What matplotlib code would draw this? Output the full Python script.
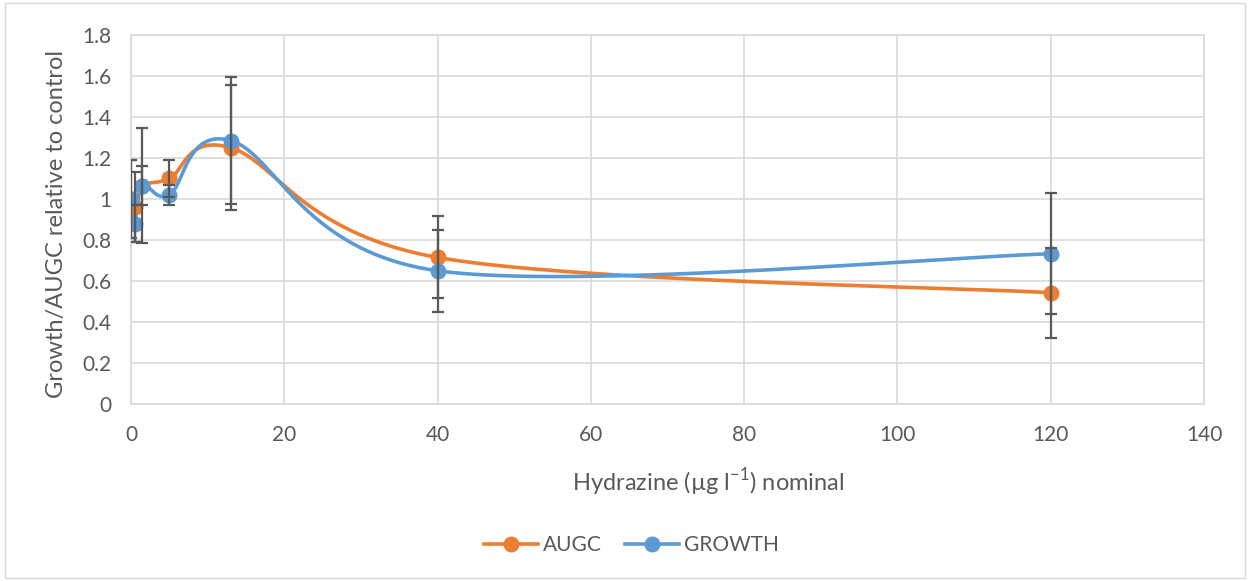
import numpy as np
import matplotlib.pyplot as plt
from matplotlib.patches import Rectangle

plt.rcParams['font.family'] = ['Lato', 'DejaVu Sans']

conc = [0, 0.5, 1.5, 5, 13, 40, 120]
augc = [1.0, 0.96, 1.065, 1.10, 1.25, 0.715, 0.543]
augc_err = [0.19, 0.17, 0.095, 0.09, 0.305, 0.2, 0.22]
growth = [1.0, 0.88, 1.065, 1.02, 1.285, 0.65, 0.733]
growth_err = [0.19, 0.09, 0.28, 0.05, 0.31, 0.2, 0.295]

orange = '#ED7D31'
blue = '#5B9BD5'
grey_txt = '#595959'
grid_c = '#D9D9D9'


def smooth(x, y, sx, sy, n=40):
    # Excel-style smoothed line (Catmull-Rom bezier), done in pixel space
    p = np.column_stack([np.array(x) * sx, np.array(y) * sy])
    pts = np.vstack([p[0], p, p[-1]])
    out = []
    for i in range(1, len(pts) - 2):
        p0, p1, p2, p3 = pts[i - 1], pts[i], pts[i + 1], pts[i + 2]
        c1 = p1 + (p2 - p0) / 6
        c2 = p2 - (p3 - p1) / 6
        t = np.linspace(0, 1, n)[:, None]
        seg = ((1 - t) ** 3) * p1 + 3 * ((1 - t) ** 2) * t * c1 + 3 * (1 - t) * t ** 2 * c2 + t ** 3 * p2
        out.append(seg)
    out = np.vstack(out)
    return out[:, 0] / sx, out[:, 1] / sy


fig = plt.figure(figsize=(12.5, 5.81), dpi=100)
fig.patches.append(Rectangle((0.004, 0.005), 0.992, 0.99, transform=fig.transFigure,
                             fill=False, edgecolor=grid_c, linewidth=1))
ax = fig.add_axes([0.1048, 0.3046, 0.8584, 0.6352])

ax.set_xlim(0, 140)
ax.set_ylim(0, 1.8)
sx = 1073 / 140
sy = 369 / 1.8

for ys, err, col, lab in [(augc, augc_err, orange, 'AUGC'), (growth, growth_err, blue, 'GROWTH')]:
    xs, yy = smooth(conc, ys, sx, sy)
    ax.plot(xs, yy, color=col, lw=2.6, zorder=3)
    ax.plot(conc, ys, 'o', color=col, ms=10.5, zorder=4)
    ax.plot([], [], '-o', color=col, lw=2.6, ms=10.5, label=lab)
    ax.errorbar(conc, ys, yerr=err, fmt='none', ecolor=grey_txt, elinewidth=1.6,
                capsize=4.5, capthick=1.6, zorder=5)

ax.set_xticks(np.arange(0, 141, 20))
ax.set_yticks(np.arange(0, 1.81, 0.2))
ax.set_yticklabels(['0', '0.2', '0.4', '0.6', '0.8', '1', '1.2', '1.4', '1.6', '1.8'])
ax.grid(True, color=grid_c, lw=1.2)
ax.set_axisbelow(True)
for s in ax.spines.values():
    s.set_color(grid_c)
    s.set_linewidth(1.2)
ax.tick_params(length=0, labelsize=15, colors=grey_txt)
ax.tick_params(axis='y', pad=14)
ax.tick_params(axis='x', pad=15)

ax.set_xlabel(r'Hydrazine (µg l$^{\mathregular{-1}}$) nominal', fontsize=17, color=grey_txt, va='center')
ax.xaxis.set_label_coords(0.538, -0.211)
ax.set_ylabel('Growth/AUGC relative to control', fontsize=17, color=grey_txt, va='center')
ax.yaxis.set_label_coords(-0.069, 0.489)

leg = fig.legend(loc='center', bbox_to_anchor=(0.505, 0.062), ncol=2, frameon=False,
                 fontsize=15, handlelength=2.6, columnspacing=1.1, handletextpad=0.25)
for t in leg.get_texts():
    t.set_color(grey_txt)

fig.savefig('out.png', dpi=100)
